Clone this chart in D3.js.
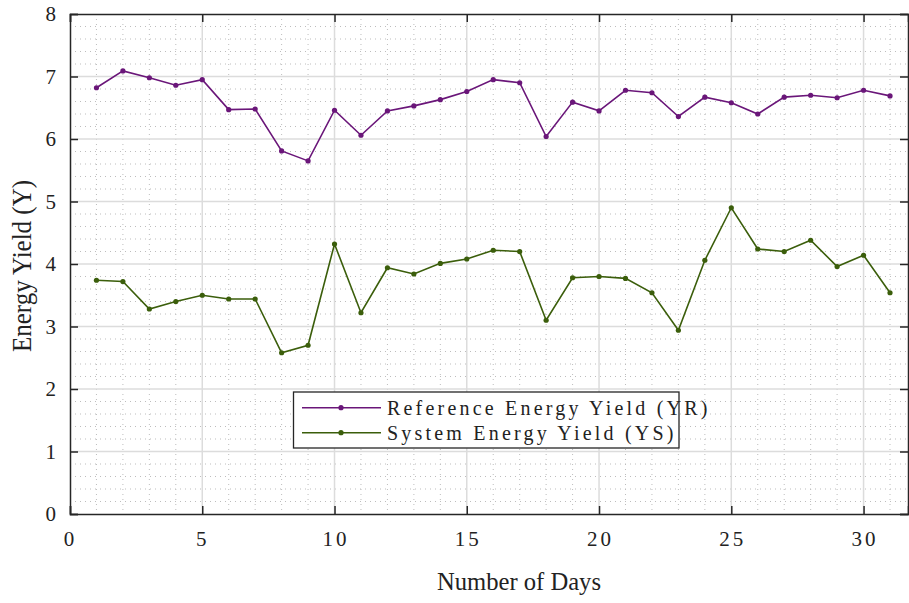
<!DOCTYPE html>
<html>
<head>
<meta charset="utf-8">
<script src="https://cdn.jsdelivr.net/npm/d3@7"></script>
<style>
html,body{margin:0;padding:0;background:#fff;}
svg{display:block;}
</style>
</head>
<body>
<svg id="chart" width="909" height="603"></svg>
<script>
const days = d3.range(1, 32);
const referenceYield = [6.82,7.09,6.98,6.86,6.95,6.47,6.48,5.81,5.65,6.46,6.06,6.45,6.53,6.63,6.76,6.95,6.90,6.04,6.59,6.45,6.78,6.74,6.36,6.67,6.58,6.40,6.67,6.70,6.66,6.78,6.69];
const systemYield = [3.74,3.72,3.28,3.40,3.50,3.44,3.44,2.58,2.70,4.32,3.22,3.94,3.84,4.01,4.08,4.22,4.20,3.10,3.78,3.80,3.77,3.54,2.94,4.06,4.90,4.24,4.20,4.38,3.96,4.14,3.54];
const xTicks = [0,5,10,15,20,25,30];
const yTicks = [0,1,2,3,4,5,6,7,8];
const seriesNames = ["Reference Energy Yield (YR)", "System Energy Yield (YS)"];
const seriesColors = ["#6a1679", "#3b5e0b"];

const FONT = '"Liberation Serif", serif';
const svg = d3.select("#chart");
const pLeft = 70, pRight = 908, pTop = 14, pBottom = 514;
const x = d3.scaleLinear().domain([0, 31.68]).range([pLeft, pRight]);
const y = d3.scaleLinear().domain([0, 8]).range([pBottom, pTop]);
const txtCol = "#222";

// minor grid
const g = svg.append("g");
g.selectAll(".mx").data(d3.range(1, 32).filter(d => d % 5 !== 0)).join("line")
  .attr("x1", d => x(d)).attr("x2", d => x(d)).attr("y1", pTop).attr("y2", pBottom)
  .attr("stroke", "#bdbdbd").attr("stroke-width", 1).attr("stroke-dasharray", "1,4");
g.selectAll(".my").data(d3.range(1, 40).filter(d => d % 5 !== 0).map(d => d / 5)).join("line")
  .attr("y1", d => y(d)).attr("y2", d => y(d)).attr("x1", pLeft).attr("x2", pRight)
  .attr("stroke", "#bdbdbd").attr("stroke-width", 1).attr("stroke-dasharray", "1,4");
// major grid
g.selectAll(".Mx").data(xTicks.filter(d => d > 0)).join("line")
  .attr("x1", d => x(d)).attr("x2", d => x(d)).attr("y1", pTop).attr("y2", pBottom)
  .attr("stroke", "#dcdcdc").attr("stroke-width", 1.5);
g.selectAll(".My").data(yTicks.filter(d => d > 0 && d < 8)).join("line")
  .attr("y1", d => y(d)).attr("y2", d => y(d)).attr("x1", pLeft).attr("x2", pRight)
  .attr("stroke", "#dcdcdc").attr("stroke-width", 1.5);

// axes (inward ticks, box)
const axCol = "#262626";
const bx = svg.append("g").attr("transform", `translate(0,${pBottom})`)
  .call(d3.axisTop(x).tickValues(xTicks).tickSize(8).tickFormat(""));
const tx = svg.append("g").attr("transform", `translate(0,${pTop})`)
  .call(d3.axisBottom(x).tickValues(xTicks).tickSize(8).tickFormat(""));
const ly = svg.append("g").attr("transform", `translate(${pLeft},0)`)
  .call(d3.axisRight(y).tickValues(yTicks).tickSize(8).tickFormat(""));
const ry = svg.append("g").attr("transform", `translate(${pRight},0)`)
  .call(d3.axisLeft(y).tickValues(yTicks).tickSize(8).tickFormat(""));
[bx, tx, ly, ry].forEach(a => {
  a.selectAll("path").attr("stroke", axCol).attr("stroke-width", 1.5);
  a.selectAll("line").attr("stroke", axCol).attr("stroke-width", 1.5);
});

// tick labels
svg.append("g").selectAll("text").data(xTicks).join("text")
  .attr("x", d => x(d)).attr("y", 546).attr("fill", txtCol).style("font-family", FONT)
  .attr("text-anchor", "middle").attr("font-size", 21).attr("letter-spacing", d => d >= 10 ? 3 : 0)
  .attr("dx", d => d >= 10 ? 1.5 : -1)
  .text(d => d);
svg.append("g").selectAll("text").data(yTicks).join("text")
  .attr("x", 56).attr("y", d => y(d) + 7).attr("fill", txtCol).style("font-family", FONT)
  .attr("text-anchor", "end").attr("font-size", 21)
  .text(d => d);

// axis titles
svg.append("text").attr("x", 519).attr("y", 590).attr("text-anchor", "middle").attr("fill", txtCol)
  .style("font-family", FONT)
  .attr("font-size", 25).attr("textLength", 164).attr("lengthAdjust", "spacingAndGlyphs")
  .text("Number of Days");
svg.append("text").attr("transform", "translate(31,266) rotate(-90)").attr("fill", txtCol)
  .style("font-family", FONT)
  .attr("text-anchor", "middle").attr("font-size", 28)
  .attr("textLength", 172).attr("lengthAdjust", "spacingAndGlyphs")
  .text("Energy Yield (Y)");

// series
const series = [referenceYield, systemYield];
const line = d3.line().x((d, i) => x(days[i])).y(d => y(d));
series.forEach((vals, k) => {
  svg.append("path").datum(vals).attr("d", line)
    .attr("fill", "none").attr("stroke", seriesColors[k]).attr("stroke-width", 1.6);
  svg.append("g").selectAll("circle").data(vals).join("circle")
    .attr("cx", (d, i) => x(days[i])).attr("cy", d => y(d)).attr("r", 2.6)
    .attr("fill", seriesColors[k]);
});

// legend
const lg = svg.append("g");
lg.append("rect").attr("x", 293.5).attr("y", 392).attr("width", 385.5).attr("height", 56)
  .attr("fill", "#fff").attr("stroke", axCol).attr("stroke-width", 1.3);
seriesNames.forEach((name, k) => {
  const yy = k === 0 ? 407.7 : 432.7;
  lg.append("line").attr("x1", 302).attr("x2", 381).attr("y1", yy).attr("y2", yy)
    .attr("stroke", seriesColors[k]).attr("stroke-width", 1.6);
  lg.append("circle").attr("cx", 341).attr("cy", yy).attr("r", 2.6).attr("fill", seriesColors[k]);
  lg.append("text").attr("x", 387).attr("y", yy + 7).attr("font-size", 20).attr("fill", txtCol)
    .style("font-family", FONT)
    .attr("letter-spacing", 3.2).text(name);
});
</script>
</body>
</html>
